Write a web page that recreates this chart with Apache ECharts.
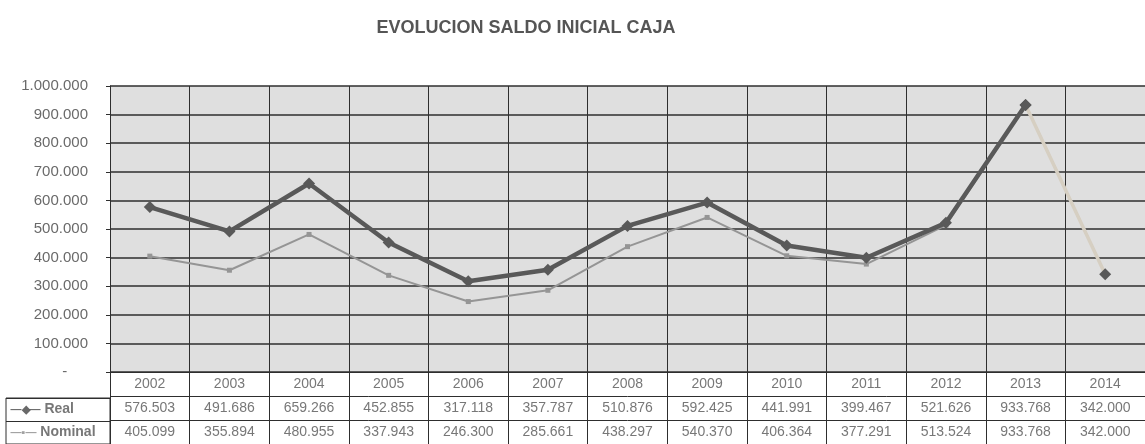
<!DOCTYPE html>
<html>
<head>
<meta charset="utf-8">
<script src="https://cdn.jsdelivr.net/npm/echarts@6/dist/echarts.min.js"></script>
<style>
  html, body { margin: 0; padding: 0; background: #fff; }
  #container { width: 1145px; height: 444px; }
</style>
</head>
<body>
<div id="container"></div>
<script>
var years = ['2002', '2003', '2004', '2005', '2006', '2007', '2008', '2009', '2010', '2011', '2012', '2013', '2014'];
var real = [576503, 491686, 659266, 452855, 317118, 357787, 510876, 592425, 441991, 399467, 521626, 933768, 342000];
var nominal = [405099, 355894, 480955, 337943, 246300, 285661, 438297, 540370, 406364, 377291, 513524, 933768, 342000];
var rows = ['year', 'Real', 'Nominal'];

// 1234567 -> 1.234.567
function fmt(v) {
    return String(v).replace(/\B(?=(\d{3})+(?!\d))/g, '.');
}

var font = 'Liberation Sans, Arial, sans-serif';
var lineCol = '#2e2e2e';

// the 2013 -> 2014 segment of Real is pale in the original
var realHead = real.map(function (v, i) { return i <= 11 ? v : '-'; });
var realTail = real.map(function (v, i) { return i >= 11 ? v : '-'; });

// table cells
var cells = [];
years.forEach(function (y, i) {
    cells.push({value: [i, 0], label: {formatter: y}});
    cells.push({value: [i, 1], label: {formatter: fmt(real[i])}});
    cells.push({value: [i, 2], label: {formatter: fmt(nominal[i])}});
});

var ec = echarts.init(document.getElementById('container'));

var option = {
    animation: false,
    title: {
        text: 'EVOLUCION SALDO INICIAL CAJA',
        left: 521,
        top: 14,
        textAlign: 'center',
        textStyle: {fontFamily: font, fontSize: 18, fontWeight: 'bold', color: '#555'}
    },
    grid: [
        {left: 110, top: 86, width: 1040, height: 286, show: true, backgroundColor: '#dfdfdf', borderWidth: 0},
        {left: 110, top: 372, width: 1040, height: 72},
        {left: 6, top: 398, width: 104, height: 46, show: true, borderColor: lineCol, borderWidth: 1}
    ],
    xAxis: [
        {
            gridIndex: 0, type: 'category', data: years, boundaryGap: true,
            axisLine: {lineStyle: {color: lineCol}}, axisTick: {show: false}, axisLabel: {show: false},
            splitLine: {show: true, lineStyle: {color: lineCol, width: 1}}
        },
        {
            gridIndex: 1, type: 'category', data: years, boundaryGap: true,
            axisLine: {lineStyle: {color: lineCol}}, axisTick: {show: false}, axisLabel: {show: false},
            splitLine: {show: true, lineStyle: {color: lineCol, width: 1}}
        },
        {gridIndex: 2, type: 'value', min: -1, max: 1, show: false}
    ],
    yAxis: [
        {
            gridIndex: 0, type: 'value', min: 0, max: 1000000, interval: 100000,
            axisLine: {show: true, lineStyle: {color: lineCol}},
            axisTick: {show: true, length: 4, lineStyle: {color: lineCol}},
            axisLabel: {
                fontFamily: font, fontSize: 15, color: '#6a6a6a', margin: 22,
                formatter: function (v) { return v === 0 ? '-     ' : fmt(v); }
            },
            splitLine: {lineStyle: {color: lineCol, width: 1.5}}
        },
        {
            gridIndex: 1, type: 'category', data: rows, inverse: true, boundaryGap: true,
            axisLine: {show: true, lineStyle: {color: lineCol}}, axisTick: {show: false}, axisLabel: {show: false},
            splitLine: {show: true, lineStyle: {color: lineCol, width: 1}}
        },
        {
            gridIndex: 2, type: 'category', data: ['Real', 'Nominal'], inverse: true, boundaryGap: true,
            axisLine: {show: false}, axisTick: {show: false}, axisLabel: {show: false},
            splitLine: {show: true, lineStyle: {color: lineCol, width: 1}}
        }
    ],
    series: [
        {
            name: 'Real', type: 'line', data: realHead, xAxisIndex: 0, yAxisIndex: 0,
            symbol: 'diamond', symbolSize: 12, z: 3,
            lineStyle: {width: 4.5, color: '#595959'},
            itemStyle: {color: '#595959'}
        },
        {
            name: 'Nominal', type: 'line', data: nominal, xAxisIndex: 0, yAxisIndex: 0,
            symbol: 'rect', symbolSize: 5, z: 2,
            lineStyle: {width: 2, color: '#959595'},
            itemStyle: {color: '#959595'}
        },
        {
            name: 'Real tail', type: 'line', data: realTail, xAxisIndex: 0, yAxisIndex: 0,
            symbol: 'diamond', symbolSize: 12, z: 3, silent: true,
            lineStyle: {width: 3.5, color: '#d6cfc2'},
            itemStyle: {color: '#595959'}
        },
        {
            type: 'scatter', xAxisIndex: 1, yAxisIndex: 1, data: cells,
            symbolSize: 1, itemStyle: {color: 'transparent'}, silent: true,
            label: {
                show: true, position: 'inside',
                fontFamily: font, fontSize: 14, color: '#555'
            }
        },
        {
            type: 'scatter', xAxisIndex: 2, yAxisIndex: 2,
            data: [
                {value: [-1, 0], label: {formatter: '{r|—◆—} Real'}},
                {value: [-1, 1], label: {formatter: '{n|—▪—} Nominal'}}
            ],
            symbolSize: 1, itemStyle: {color: 'transparent'}, silent: true,
            label: {
                show: true, position: 'right', distance: 4,
                fontFamily: font, fontSize: 14, color: '#555', fontWeight: 'bold',
                rich: {
                    r: {color: '#444', fontSize: 11, fontWeight: 'bold'},
                    n: {color: '#888', fontSize: 11}
                }
            }
        }
    ]
};

ec.setOption(option);
</script>
</body>
</html>
